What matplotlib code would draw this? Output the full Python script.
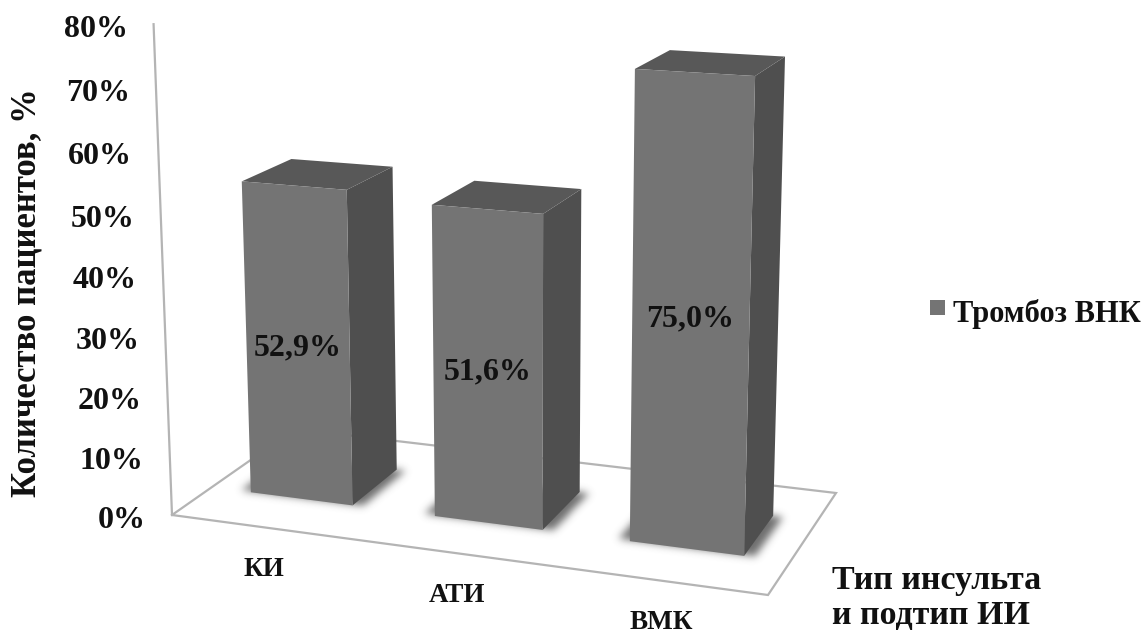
import numpy as np
import matplotlib
matplotlib.use('Agg')
from matplotlib import pyplot as plt
from matplotlib.patches import Polygon
from matplotlib.path import Path

plt.rcParams['font.family'] = ['Liberation Serif', 'DejaVu Serif']
plt.rcParams['font.weight'] = 'bold'

categories = ['КИ', 'АТИ', 'ВМК']
values = [52.9, 51.6, 75.0]
value_labels = ['52,9%', '51,6%', '75,0%']
y_ticks = [0, 10, 20, 30, 40, 50, 60, 70, 80]
series_name = 'Тромбоз ВНК'
y_title = 'Количество пациентов, %'
x_title = 'Тип инсульта\nи подтип ИИ'

W, H = 1144, 634

# floor plane -> pixels, plus a vertical vanishing direction for the value axis
FLOOR = np.array([[1.76581539e+02, 1.56189606e+02, 172.0],
                  [9.55644394e+00, -3.77344375e+01, 515.0],
                  [-2.87566769e-02, 1.12507139e-01, 1.0]])
UP = -0.000615 * np.array([528.0, 10000.0, 1.0])


def project(u, d, v=0.0):
    p = FLOOR @ np.array([u, d, 1.0]) + v * UP
    return p[0] / p[2], p[1] / p[2]


def face(*corners):
    return [project(*c) for c in corners]


def blur(mask, sigma):
    r = int(3 * sigma)
    kernel = np.exp(-0.5 * (np.arange(-r, r + 1) / sigma) ** 2)
    kernel /= kernel.sum()
    mask = np.apply_along_axis(np.convolve, 0, mask, kernel, mode='same')
    return np.apply_along_axis(np.convolve, 1, mask, kernel, mode='same')


fig = plt.figure(figsize=(W / 100, H / 100), dpi=100)
ax = fig.add_axes([0, 0, 1, 1])

line_color = '#b4b4b4'
ymax = y_ticks[-1]
ax.plot(*zip(*face((0, 0, ymax), (0, 0, 0), (3, 0, 0), (3, 1, 0), (0, 1, 0), (0, 0, 0))),
        color=line_color, lw=1.6, solid_joinstyle='miter', zorder=1)

for t in y_ticks:
    x, y = project(0, 0, t)
    ax.text(x - 26, y + 5, f'{t}%', ha='right', va='center', fontsize=23, color='#111111')

# soft shadows on the floor, one blurred footprint per bar
gx, gy = np.meshgrid(np.arange(W) + 0.5, np.arange(H) + 0.5)
grid = np.column_stack([gx.ravel(), gy.ravel()])
shadow = np.zeros((H, W))

for i, (name, val, lab) in enumerate(zip(categories, values, value_labels)):
    u0, u1 = i + 0.22, i + 0.78
    d0, d1 = 0.30, 0.70

    footprint = face((u0 - 0.06, d0 + 0.01, 0), (u1 + 0.05, d0 + 0.01, 0),
                     (u1 + 0.05, d1, 0), (u0 - 0.06, d1, 0))
    shadow += Path(footprint).contains_points(grid).reshape(H, W)

    ax.add_patch(Polygon(face((u1, d0, 0), (u1, d1, 0), (u1, d1, val), (u1, d0, val)),
                         fc='#4f4f4f', ec='none', zorder=3))
    ax.add_patch(Polygon(face((u0, d0, val), (u1, d0, val), (u1, d1, val), (u0, d1, val)),
                         fc='#585858', ec='none', zorder=3))
    ax.add_patch(Polygon(face((u0, d0, 0), (u1, d0, 0), (u1, d0, val), (u0, d0, val)),
                         fc='#747474', ec='none', zorder=4))

    x, y = project(i + 0.5, d0, val / 2)
    ax.text(x, y + 3, lab, ha='center', va='center', fontsize=23, color='#111111', zorder=5)

    x, y = project(i + 0.5, 0)
    ax.text(x, y + 42, name, ha='center', va='center', fontsize=19.5, color='#111111')

rgba = np.zeros((H, W, 4))
rgba[..., :3] = 0.33
rgba[..., 3] = 0.85 * blur(shadow, 4.0)
ax.imshow(rgba, extent=(0, W, H, 0), aspect='auto', interpolation='nearest', zorder=2)

ax.text(27, 293, y_title, rotation=90, ha='center', va='center', fontsize=25, color='#111111')
ax.text(832, 598, x_title, ha='left', va='center', fontsize=24.5, color='#111111', linespacing=1.13)

ax.add_patch(Polygon([(930, 300), (945, 300), (945, 315), (930, 315)], fc='#747474', ec='none'))
ax.text(953, 314, series_name, ha='left', va='center', fontsize=22, color='#111111')

ax.set_xlim(0, W)
ax.set_ylim(H, 0)
ax.axis('off')

fig.savefig('out.png', dpi=100)
